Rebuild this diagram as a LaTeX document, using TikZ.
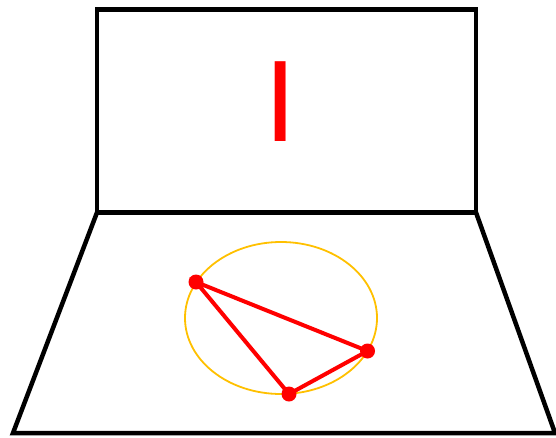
\documentclass[tikz,border=0pt]{standalone}
\usepackage{fontspec}
\setmainfont{Liberation Sans}
\definecolor{gold}{RGB}{255,192,0}
\begin{document}
\begin{tikzpicture}[x=1pt,y=-1pt]
\tikzset{
  frame/.style={draw=black,line width=4.5pt,line join=miter},
  conic/.style={draw=gold,line width=1.8pt},
  edge/.style={draw=red,line width=4pt},
  pt/.style={circle,fill=red,inner sep=0pt,minimum width=15pt,minimum height=13pt}
}
\useasboundingbox (0,0) rectangle (556,437);

% image plane and ground plane
\coordinate (tl) at (97,9.5);
\coordinate (tr) at (476,9.5);
\coordinate (ml) at (97,212.5);
\coordinate (mr) at (476,212.5);
\coordinate (bl) at (13,433);
\coordinate (br) at (555,433);
\draw[frame] (tl) -- (tr) -- (mr) -- (ml) -- cycle;
\draw[frame] (ml) -- (mr) -- (br) -- (bl) -- cycle;

\node[text=red,font=\fontsize{116}{116}\selectfont,inner sep=0pt,anchor=base]
  (img) at (281,141) {I};

% circle through the points
\draw[conic] (281,318) ellipse [x radius=96,y radius=76];

\node[pt] (p1) at (196,282) {};
\node[pt] (p2) at (367.5,351) {};
\node[pt] (p3) at (289,394) {};
\draw[edge] (p1.center) -- (p2.center) -- (p3.center) -- cycle;
\end{tikzpicture}
\end{document}
